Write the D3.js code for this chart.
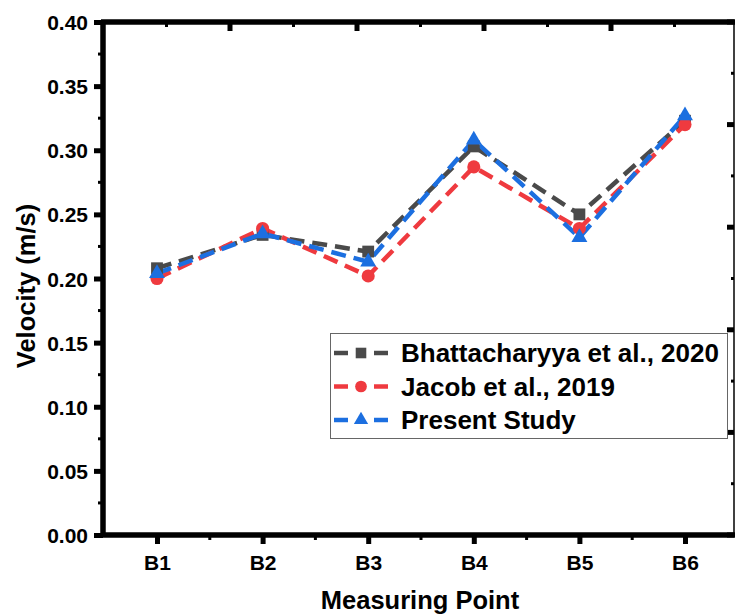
<!DOCTYPE html>
<html>
<head>
<meta charset="utf-8">
<script src="https://cdn.jsdelivr.net/npm/d3@7"></script>
<style>
  body { margin: 0; background: #fff; }
  text { font-family: Arial, "Liberation Sans", sans-serif; font-weight: bold; fill: #000; }
</style>
</head>
<body>
<svg id="chart" width="736" height="616"></svg>
<script>
// data
var points = ["B1", "B2", "B3", "B4", "B5", "B6"];
var bhattacharyya = [0.208, 0.234, 0.221, 0.303, 0.250, 0.323];
var jacob = [0.200, 0.239, 0.202, 0.287, 0.239, 0.320];
var present = [0.204, 0.235, 0.213, 0.308, 0.232, 0.327];
var yTicks = [0, 0.05, 0.10, 0.15, 0.20, 0.25, 0.30, 0.35, 0.40];
var seriesNames = ["Bhattacharyya et al., 2020", "Jacob et al., 2019", "Present Study"];

var series = [
  { name: seriesNames[0], values: bhattacharyya, color: "#4a4a4a", symbol: d3.symbolSquare, size: 140 },
  { name: seriesNames[1], values: jacob, color: "#ef3a3f", symbol: d3.symbolCircle, size: 135 },
  { name: seriesNames[2], values: present, color: "#1c6fe0", symbol: d3.symbolTriangle, size: 110 }
];

var svg = d3.select("#chart");
var pLeft = 103, pRight = 734, pTop = 22, pBottom = 535;

var x = d3.scalePoint().domain(points).range([157, 685]);
var y = d3.scaleLinear().domain([0, 0.4]).range([pBottom, pTop]);

// minor tick positions between categories
var xMinor = d3.scaleLinear().domain([0, 5]).range([157, 685]);

// lines
var line = d3.line()
  .x(function(d, i) { return x(points[i]); })
  .y(function(d) { return y(d); });

series.forEach(function(s) {
  svg.append("path")
    .datum(s.values)
    .attr("d", line)
    .attr("fill", "none")
    .attr("stroke", s.color)
    .attr("stroke-width", 4.5)
    .attr("stroke-dasharray", "15,8");
});

series.forEach(function(s) {
  svg.selectAll(null)
    .data(s.values)
    .enter().append("path")
      .attr("d", d3.symbol().type(s.symbol).size(s.size))
      .attr("transform", function(d, i) { return "translate(" + x(points[i]) + "," + y(d) + ")"; })
      .attr("fill", s.color);
});

// right axis (thin line, inward ticks, own spacing)
svg.append("line").attr("x1", pRight).attr("x2", pRight).attr("y1", pTop).attr("y2", pBottom)
  .attr("stroke", "#000").attr("stroke-width", 1.5);
var rScale = d3.scaleLinear().domain([0, 10]).range([pBottom, pTop]);
d3.range(0, 11).forEach(function(k) {
  svg.append("line")
    .attr("x1", pRight).attr("x2", pRight - (k % 2 == 0 ? 7 : 3))
    .attr("y1", rScale(k)).attr("y2", rScale(k))
    .attr("stroke", "#000").attr("stroke-width", k % 2 == 0 ? 5 : 3);
});

// top axis
var tScale = d3.scaleLinear().domain([0, 10]).range([pLeft, pLeft + 635]);
svg.append("line").attr("x1", pLeft - 2).attr("x2", pRight + 1).attr("y1", pTop).attr("y2", pTop)
  .attr("stroke", "#000").attr("stroke-width", 5.5);
d3.range(1, 10).forEach(function(k) {
  if (tScale(k) > pRight) return;
  svg.append("line")
    .attr("x1", tScale(k)).attr("x2", tScale(k))
    .attr("y1", pTop).attr("y2", pTop + (k % 2 == 0 ? 9 : 5))
    .attr("stroke", "#000").attr("stroke-width", k % 2 == 0 ? 5 : 3);
});

// left axis
var yAxis = d3.axisLeft(y).tickValues(yTicks).tickFormat(d3.format(".2f")).tickSize(9).tickPadding(6);
var gy = svg.append("g").attr("transform", "translate(" + pLeft + ",0)").call(yAxis);
gy.select(".domain").attr("stroke-width", 5.5).attr("d", "M0," + (pBottom + 2) + "V" + (pTop - 2));
gy.selectAll(".tick line").attr("stroke-width", 5);
gy.selectAll(".tick text").style("font-size", "21px").attr("dy", "0.36em");
var yMinor = d3.range(0, 8).map(function(i) { return 0.025 + i * 0.05; });
gy.selectAll(".minor").data(yMinor).enter().append("line")
  .attr("x1", -5).attr("x2", 0).attr("y1", function(d) { return y(d); }).attr("y2", function(d) { return y(d); })
  .attr("stroke", "#000").attr("stroke-width", 3);

// bottom axis
var xAxis = d3.axisBottom(x).tickSize(9).tickPadding(11);
var gx = svg.append("g").attr("transform", "translate(0," + pBottom + ")").call(xAxis);
gx.select(".domain").attr("stroke-width", 5.5).attr("d", "M" + (pLeft - 2) + ",0H" + (pRight + 1));
gx.selectAll(".tick line").attr("stroke-width", 5);
gx.selectAll(".tick text").style("font-size", "21px");
gx.selectAll(".minor").data(d3.range(0, 5).map(function(i) { return i + 0.5; })).enter().append("line")
  .attr("x1", function(d) { return xMinor(d); }).attr("x2", function(d) { return xMinor(d); })
  .attr("y1", 0).attr("y2", 5)
  .attr("stroke", "#000").attr("stroke-width", 3);

// axis titles
svg.append("text")
  .attr("x", 420).attr("y", 609)
  .attr("text-anchor", "middle")
  .style("font-size", "25.5px")
  .text("Measuring Point");

svg.append("text")
  .attr("transform", "translate(35,286) rotate(-90)")
  .attr("text-anchor", "middle")
  .style("font-size", "25.5px")
  .text("Velocity (m/s)");

// legend
var legend = svg.append("g");
legend.append("rect")
  .attr("x", 330.5).attr("y", 333.5).attr("width", 397).attr("height", 105)
  .attr("fill", "#fff").attr("stroke", "#666").attr("stroke-width", 1);

series.forEach(function(s, i) {
  var cy = 353 + i * 33.5;
  var row = legend.append("g").attr("transform", "translate(0," + cy + ")");
  row.append("line").attr("x1", 334).attr("x2", 348).attr("y1", 0).attr("y2", 0)
    .attr("stroke", s.color).attr("stroke-width", 4.5);
  row.append("line").attr("x1", 374).attr("x2", 388).attr("y1", 0).attr("y2", 0)
    .attr("stroke", s.color).attr("stroke-width", 4.5);
  row.append("path")
    .attr("d", d3.symbol().type(s.symbol).size(s.size * 0.8))
    .attr("transform", "translate(361,0)")
    .attr("fill", s.color);
  row.append("text")
    .attr("x", 401).attr("y", 0).attr("dy", "0.36em")
    .style("font-size", "26px")
    .text(s.name);
});
</script>
</body>
</html>
